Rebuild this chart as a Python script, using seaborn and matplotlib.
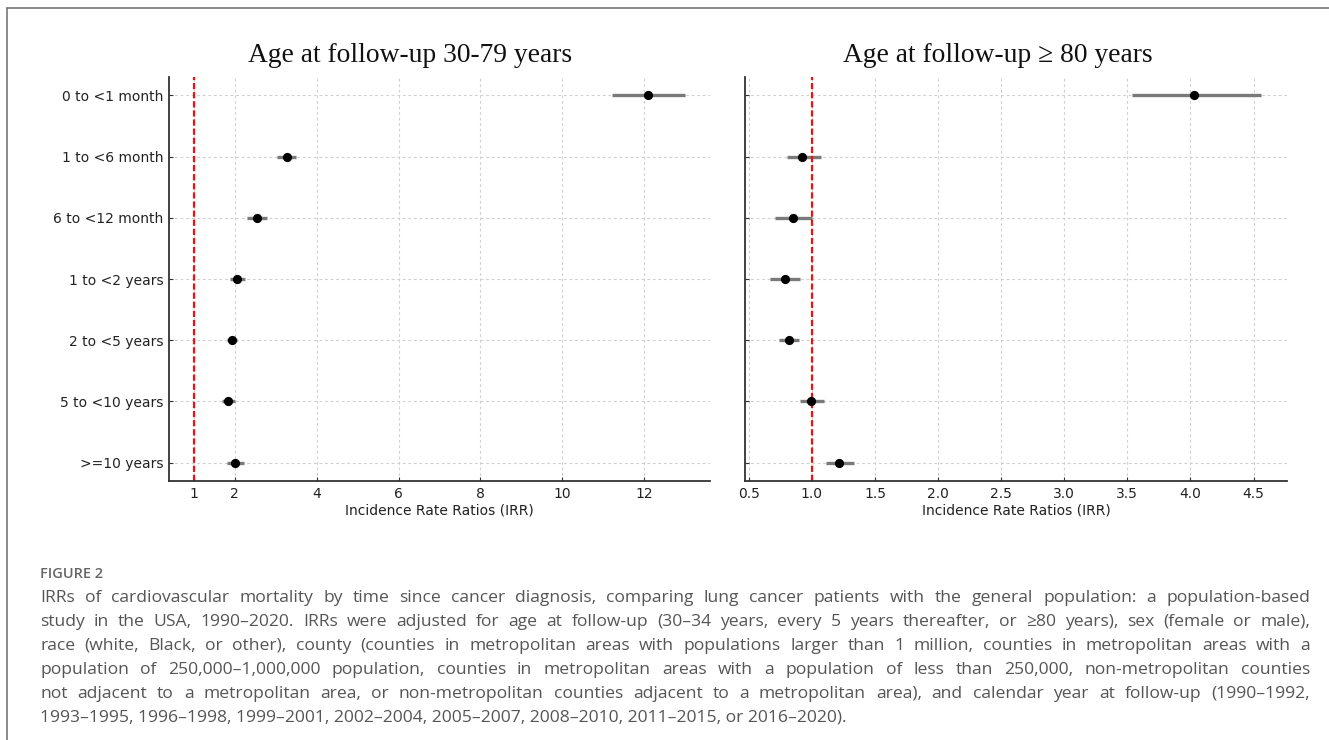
import numpy as np
import pandas as pd
import matplotlib
matplotlib.use("Agg")
import matplotlib.pyplot as plt
from matplotlib.font_manager import FontProperties
import seaborn as sns

# ---------------- data ----------------
categories = ["0 to <1 month", "1 to <6 month", "6 to <12 month", "1 to <2 years",
              "2 to <5 years", "5 to <10 years", ">=10 years"]
irr_young = [12.09, 3.27, 2.55, 2.07, 1.94, 1.85, 2.01]
lo_young = [11.22, 3.03, 2.31, 1.90, 1.81, 1.70, 1.81]
hi_young = [13.00, 3.51, 2.79, 2.26, 2.05, 2.01, 2.24]
irr_old = [4.03, 0.925, 0.852, 0.785, 0.816, 0.995, 1.213]
lo_old = [3.54, 0.80, 0.706, 0.67, 0.743, 0.904, 1.113]
hi_old = [4.56, 1.07, 1.00, 0.904, 0.90, 1.095, 1.332]
xticks_young = [1, 2, 4, 6, 8, 10, 12]
xticks_old = [0.5, 1.0, 1.5, 2.0, 2.5, 3.0, 3.5, 4.0, 4.5]
title_young = "Age at follow-up 30-79 years"
title_old = "Age at follow-up \u2265 80 years"
xlabel = "Incidence Rate Ratios (IRR)"
fig_label = "FIGURE 2"
caption_lines = [
    "IRRs of cardiovascular mortality by time since cancer diagnosis, comparing lung cancer patients with the general population: a population-based",
    "study in the USA, 1990\u20132020. IRRs were adjusted for age at follow-up (30\u201334 years, every 5 years thereafter, or \u226580 years), sex (female or male),",
    "race (white, Black, or other), county (counties in metropolitan areas with populations larger than 1 million, counties in metropolitan areas with a",
    "population of 250,000\u20131,000,000 population, counties in metropolitan areas with a population of less than 250,000, non-metropolitan counties",
    "not adjacent to a metropolitan area, or non-metropolitan counties adjacent to a metropolitan area), and calendar year at follow-up (1990\u20131992,",
    "1993\u20131995, 1996\u20131998, 1999\u20132001, 2002\u20132004, 2005\u20132007, 2008\u20132010, 2011\u20132015, or 2016\u20132020).",
]

# ---------------- style ----------------
sns.set_theme(style="white")
plt.rcParams["font.family"] = ["DejaVu Sans"]

W, H = 1329, 740
fig = plt.figure(figsize=(W / 100, H / 100), dpi=100)
fig.patch.set_facecolor("white")

def px_axes(x0, y0, x1, y1):
    return fig.add_axes([x0 / W, 1 - y1 / H, (x1 - x0) / W, (y1 - y0) / H])

ax1 = px_axes(169, 77, 710, 481)
ax2 = px_axes(745, 77, 1287, 481)

pos = np.arange(len(categories))

def draw_panel(ax, irr, lo, hi, xticks, xlim, show_labels):
    df = pd.DataFrame({"irr": irr, "lo": lo, "hi": hi, "pos": pos})
    ax.hlines(df["pos"], df["lo"], df["hi"], color="#7a7a7a", lw=2.4, zorder=2)
    sns.scatterplot(data=df, x="irr", y="pos", color="black", s=44,
                    edgecolor="black", linewidth=0, ax=ax, zorder=3)
    ax.axvline(1, color="#ee1111", lw=1.6, ls=(0, (2.8, 1.3)), zorder=2.5)
    ax.set_xlim(*xlim)
    ax.set_ylim(6.3, -0.3)
    ax.set_xticks(xticks)
    ax.set_xticklabels([f"{t:g}" if isinstance(t, int) else f"{t:.1f}" for t in xticks])
    ax.set_yticks(pos)
    if show_labels:
        ax.set_yticklabels(categories)
    else:
        ax.set_yticklabels([])
    ax.set_ylabel("")
    ax.set_xlabel(xlabel, fontsize=10, color="#222222", labelpad=2)
    ax.grid(True, color="#d0d0d0", lw=0.8, ls=(0, (2.5, 2.5)))
    ax.set_axisbelow(True)
    for s in ["top", "right"]:
        ax.spines[s].set_visible(False)
    for s in ["left", "bottom"]:
        ax.spines[s].set_color("#333333")
        ax.spines[s].set_linewidth(1.3)
    ax.tick_params(axis="both", direction="in", length=3, width=0.8,
                   color="#333333", labelsize=10, labelcolor="#222222", pad=4,
                   left=True, bottom=True)

draw_panel(ax1, irr_young, lo_young, hi_young, xticks_young, (0.4, 13.6), True)
draw_panel(ax2, irr_old, lo_old, hi_old, xticks_old, (0.47, 4.765), False)

serif = ["Liberation Serif", "DejaVu Serif"]
fig.text(410 / W, 1 - 55 / H, title_young, ha="center", va="center",
         fontsize=19.8, family=serif, color="#111111")
fig.text(998 / W, 1 - 55 / H, title_old, ha="center", va="center",
         fontsize=19.8, family=serif, color="#111111")

# ---------------- border ----------------
fig.add_artist(plt.Line2D([7 / W, 1], [1 - 8 / H, 1 - 8 / H], color="#777777", lw=1.2,
                          transform=fig.transFigure))
fig.add_artist(plt.Line2D([7 / W, 7 / W], [0, 1 - 8 / H], color="#777777", lw=1.2,
                          transform=fig.transFigure))

# ---------------- caption ----------------
cap_fp = FontProperties(family=["Open Sans", "DejaVu Sans"])
lab_fp = FontProperties(family=["Open Sans", "DejaVu Sans"], weight="semibold")
renderer = fig.canvas.get_renderer()
cap_color = "#555555"

def text_width(text, fp, size):
    t = fig.text(0, 0, text, fontproperties=fp, fontsize=size)
    w = t.get_window_extent(renderer).width
    t.remove()
    return w

x_left, x_right = 40, 1310
lab_size = 10 * 63 / text_width(fig_label, lab_fp, 10)
fig.text(x_left / W, 1 - 578 / H, fig_label, ha="left", va="baseline",
         fontproperties=lab_fp, fontsize=lab_size, color="#666666")

nat = text_width(caption_lines[0], cap_fp, 11.0)
cap_size = max(10.0, min(12.6, 11.0 * 1180 / nat))
for i, line in enumerate(caption_lines):
    y = 1 - (602 + 24 * i) / H
    if i == len(caption_lines) - 1:
        fig.text(x_left / W, y, line, ha="left", va="baseline", fontproperties=cap_fp,
                 fontsize=cap_size, color=cap_color)
        continue
    words = line.split(" ")
    objs = [fig.text(0, y, w, ha="left", va="baseline", fontproperties=cap_fp,
                     fontsize=cap_size, color=cap_color) for w in words]
    widths = [o.get_window_extent(renderer).width for o in objs]
    gap = ((x_right - x_left) - sum(widths)) / (len(words) - 1)
    x = x_left
    for o, w in zip(objs, widths):
        o.set_x(x / W)
        x += w + gap

fig.savefig("out.png", dpi=100, facecolor="white")
